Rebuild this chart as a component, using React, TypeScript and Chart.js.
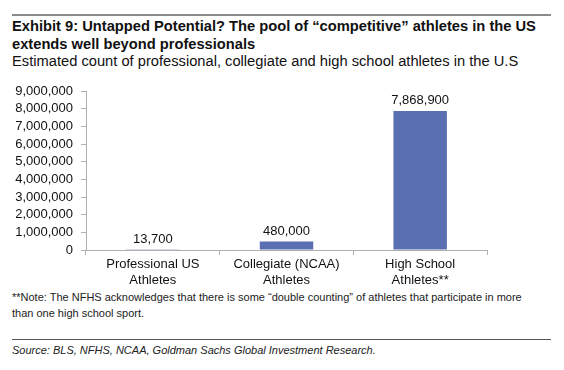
import React, { useEffect, useRef } from "react";
import { Chart, registerables } from "chart.js";

Chart.register(...registerables);

const categories: string[][] = [
  ["Professional US", "Athletes"],
  ["Collegiate (NCAA)", "Athletes"],
  ["High School", "Athletes**"],
];
const athleteCounts: number[] = [13700, 480000, 7868900];
const yMax = 9000000;
const yStep = 1000000;

const FONT = '"Liberation Sans", Arial, Helvetica, sans-serif';
const BAR_COLOR = "#5a6eb2";

const valueLabels = {
  id: "valueLabels",
  afterDatasetsDraw(chart: any) {
    const ctx = chart.ctx;
    const meta = chart.getDatasetMeta(0);
    ctx.save();
    ctx.font = `13px ${FONT}`;
    ctx.fillStyle = "#111";
    ctx.textAlign = "center";
    ctx.textBaseline = "bottom";
    meta.data.forEach((bar: any, i: number) => {
      const v = chart.data.datasets[0].data[i] as number;
      ctx.fillText(v.toLocaleString("en-US"), bar.x, bar.y - 4);
    });
    ctx.restore();
  },
};

export default function App() {
  const ref = useRef<HTMLCanvasElement | null>(null);

  useEffect(() => {
    if (!ref.current) return;
    const chart = new Chart(ref.current, {
      type: "bar",
      data: {
        labels: categories,
        datasets: [
          {
            data: athleteCounts,
            backgroundColor: BAR_COLOR,
            borderWidth: 0,
            categoryPercentage: 1,
            barPercentage: 0.4,
          },
        ],
      },
      options: {
        animation: false,
        responsive: false,
        maintainAspectRatio: false,
        layout: { padding: { top: 91, right: 77, bottom: 0, left: 0 } },
        plugins: {
          legend: { display: false },
          tooltip: { enabled: false },
          title: { display: false },
        },
        scales: {
          x: {
            offset: true,
            grid: {
              offset: true,
              drawOnChartArea: false,
              drawTicks: true,
              tickLength: 5,
              color: "#b0b0b0",
            },
            border: { color: "#b0b0b0" },
            ticks: {
              color: "#111",
              font: { family: FONT, size: 13 },
              padding: 2,
              maxRotation: 0,
              autoSkip: false,
            },
            afterFit(scale: any) {
              scale.height = 120;
            },
          },
          y: {
            min: 0,
            max: yMax,
            grid: {
              drawOnChartArea: false,
              drawTicks: true,
              tickLength: 5,
              color: "#b0b0b0",
            },
            border: { color: "#b0b0b0" },
            ticks: {
              stepSize: yStep,
              autoSkip: false,
              color: "#111",
              font: { family: FONT, size: 13 },
              padding: 8,
              callback: (v: any) => Number(v).toLocaleString("en-US"),
            },
            afterFit(scale: any) {
              scale.width = 86;
            },
          },
        },
      },
      plugins: [valueLabels],
    });
    return () => chart.destroy();
  }, []);

  const text: React.CSSProperties = {
    position: "absolute",
    left: 12,
    margin: 0,
    fontFamily: FONT,
    color: "#111",
    whiteSpace: "nowrap",
  };

  return (
    <div
      style={{
        position: "absolute",
        left: 0,
        top: 0,
        width: 564,
        height: 370,
        background: "#fff",
        overflow: "hidden",
      }}
    >
      <div style={{ position: "absolute", left: 12, top: 14, width: 539, height: 2, background: "#8a8a8a" }} />
      <div style={{ ...text, top: 17, fontSize: 14.7, fontWeight: "bold", lineHeight: "18px" }}>
        Exhibit 9: Untapped Potential? The pool of “competitive” athletes in the US
        <br />
        extends well beyond professionals
      </div>
      <div style={{ ...text, top: 52, fontSize: 14.7, lineHeight: "18px" }}>
        Estimated count of professional, collegiate and high school athletes in the U.S
      </div>
      <div style={{ ...text, top: 289, fontSize: 11, lineHeight: "16px", color: "#222" }}>
        **Note: The NFHS acknowledges that there is some “double counting” of athletes that participate in more
        <br />
        than one high school sport.
      </div>
      <div style={{ position: "absolute", left: 12, top: 339, width: 539, height: 1, background: "#555" }} />
      <div style={{ ...text, top: 343, fontSize: 11, fontStyle: "italic", lineHeight: "15px", color: "#222" }}>
        Source: BLS, NFHS, NCAA, Goldman Sachs Global Investment Research.
      </div>
      <canvas
        ref={ref}
        width={564}
        height={370}
        style={{ position: "absolute", left: 0, top: 0, width: 564, height: 370 }}
      />
    </div>
  );
}
